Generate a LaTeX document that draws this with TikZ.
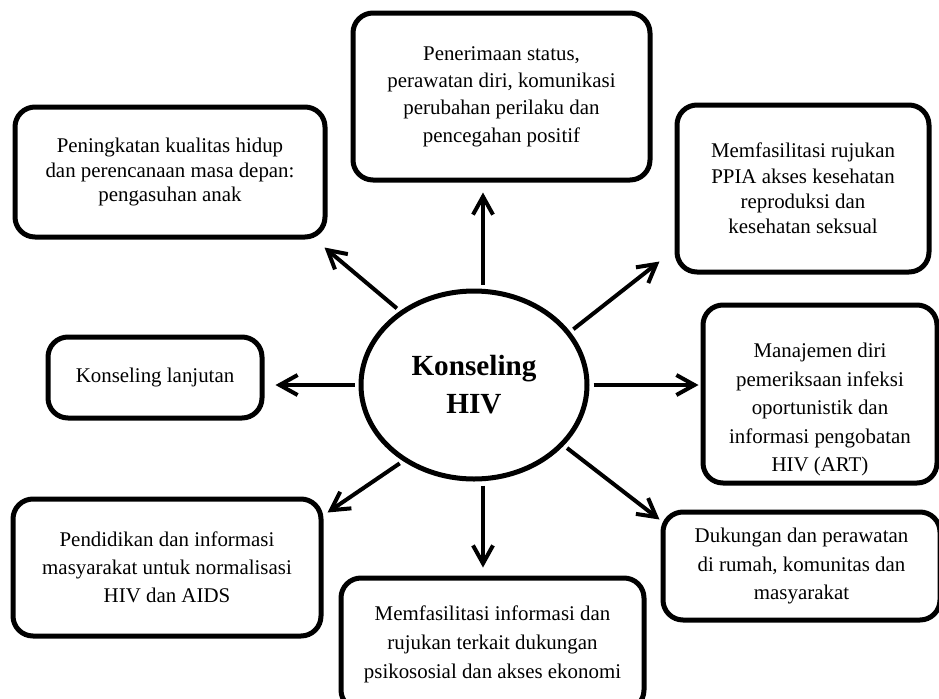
\documentclass[tikz,border=0pt]{standalone}
\usepackage{fontspec}
\setmainfont{Liberation Serif}
\usetikzlibrary{shapes.geometric, arrows.meta}

\begin{document}
\begin{tikzpicture}[x=0.5pt, y=-0.5pt,
        box/.style={draw, line width=2.5pt, rounded corners=10pt, align=center, inner sep=0pt, font=\fontsize{10.45pt}{#1}\selectfont},
        box/.default=14pt,
        arr/.style={line width=2pt, -{Straight Barb[length=9pt, width=10pt]}, shorten <=2pt, shorten >=5pt}]
        \useasboundingbox (0,0) rectangle (939,698);
        \clip (0,0) rectangle (939,698);

        \node[box=12.25pt, minimum width=155pt, minimum height=65pt] (b1) at (170,172) {Peningkatan kualitas hidup\\dan perencanaan masa depan:\\pengasuhan anak};
        \node[box=13.65pt, minimum width=148.5pt, minimum height=83.5pt] (b2) at (501.5,96.5) {Penerimaan status,\\perawatan diri, komunikasi\\perubahan perilaku dan\\pencegahan positif};
        \node[box=12.65pt, minimum width=126pt, minimum height=83.5pt] (b3) at (803,188.5) {Memfasilitasi rujukan\\PPIA akses kesehatan\\reproduksi dan\\kesehatan seksual};
        \node[box=14.25pt, minimum width=117pt, minimum height=89pt] (b4) at (820,394) {\rule{0pt}{23pt}Manajemen diri\\pemeriksaan infeksi\\oportunistik dan\\informasi pengobatan\\HIV (ART)};
        \node[box=14.25pt, minimum width=138.5pt, minimum height=54pt] (b5) at (801.5,566) {Dukungan dan perawatan\\di rumah, komunitas dan\\masyarakat};
        \node[box=14.5pt, minimum width=151.5pt, minimum height=66pt] (b6) at (492.5,644) {Memfasilitasi informasi dan\\rujukan terkait dukungan\\psikososial dan akses ekonomi};
        \node[box=14pt, minimum width=154pt, minimum height=68.5pt] (b7) at (167,567.5) {Pendidikan dan informasi\\masyarakat untuk normalisasi\\HIV dan AIDS};
        \node[box, minimum width=107pt, minimum height=40.5pt] (b8) at (155,377.5) {Konseling lanjutan};
        \node[draw, ellipse, line width=2.5pt, minimum width=113pt, minimum height=94pt, align=center, font=\fontsize{14.6pt}{19pt}\selectfont\bfseries] (c) at (474,385) {Konseling\\HIV};

        \draw[arr] ([xshift=4.5pt]c.north) -- ([xshift=4.5pt]c.north |- b2.south);
        \draw[arr, shorten >=0pt] (c.135) -- ([shift={(-1.5pt,-4pt)}]b1.south east);
        \draw[arr, shorten >=0pt] (c.29) -- ([shift={(-7.5pt,6.5pt)}]b3.south west);
        \draw[arr, shorten >=5.5pt] (c.west) -- (c.west -| b8.east);
        \draw[arr, shorten >=1pt] (c.east) -- (c.east -| b4.west);
        \draw[arr, shorten >=0pt] (c.227) -- ([shift={(2pt,-8pt)}]b7.north east);
        \draw[arr, shorten >=4pt] ([xshift=4.5pt]c.south) -- ([xshift=4.5pt]c.south |- b6.north);
        \draw[arr, shorten >=0pt] (c.326) -- ([shift={(-0.5pt,-5pt)}]b5.north west);
\end{tikzpicture}
\end{document}
